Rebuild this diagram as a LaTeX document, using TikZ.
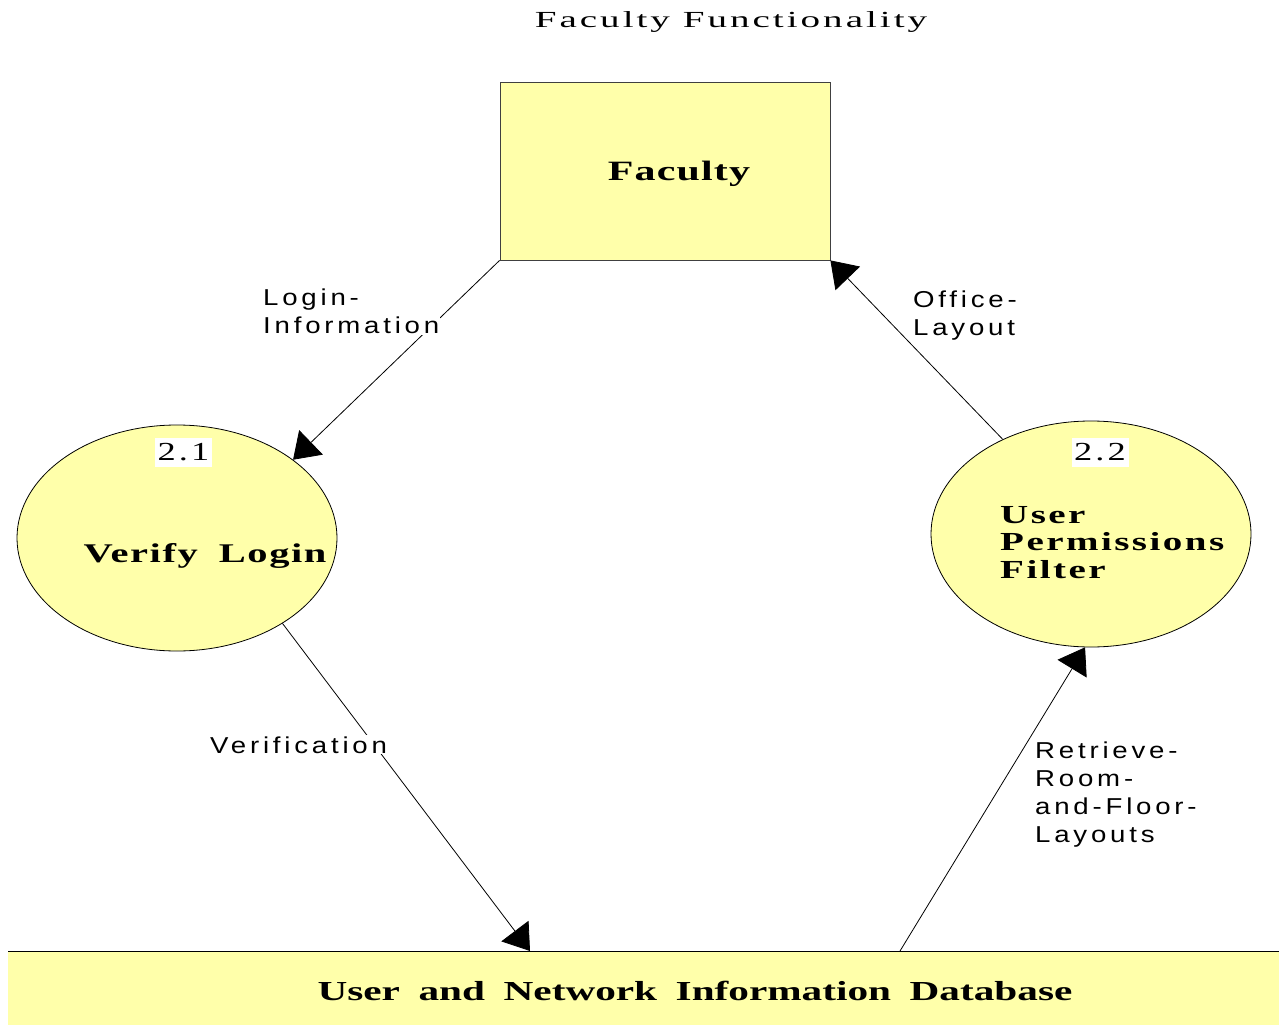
\documentclass[tikz,border=0pt]{standalone}
\usepackage{fontspec}
\setmainfont{Liberation Serif}
\newfontfamily\serifwide[FakeStretch=1.5]{Liberation Serif}
\newfontfamily\serifwidews[FakeStretch=1.5,WordSpace=1.8]{Liberation Serif}
\newfontfamily\titlefont[FakeStretch=1.7,LetterSpace=13]{Liberation Serif}
\newfontfamily\numfont[FakeStretch=1.4,LetterSpace=12]{Liberation Serif}
\newfontfamily\lblfont[FakeStretch=1.2,LetterSpace=16.5]{Liberation Sans}
\usetikzlibrary{arrows.meta,shapes.geometric}
\definecolor{dfdyellow}{RGB}{255,255,170}
\tikzset{
  proc/.style={ellipse, draw=black, line width=0.8pt, fill=dfdyellow,
    minimum width=320pt, minimum height=226pt, inner sep=0pt},
  ent/.style={rectangle, draw=black!75, line width=0.8pt, fill=dfdyellow,
    minimum width=330pt, minimum height=178pt, inner sep=0pt},
  store/.style={rectangle, fill=dfdyellow, minimum width=1271pt,
    minimum height=74pt, inner sep=0pt},
  flow/.style={draw=black, line width=0.8pt, -{Triangle[length=25pt,width=34pt]}},
  flowlbl/.style={fill=white, inner sep=1pt, align=left,
    font=\lblfont\fontsize{23}{28}\selectfont},
  numlbl/.style={fill=white, inner sep=0pt, minimum width=57pt, minimum height=29pt,
    font=\numfont\fontsize{26}{26}\selectfont},
  boldtxt/.style={inner sep=0pt, align=left},
}
\begin{document}
\begin{tikzpicture}[x=1pt,y=-1pt]
\useasboundingbox (0,0) rectangle (1279,1027);
% title
\node[anchor=base, inner sep=0pt, font=\titlefont\fontsize{23}{23}\selectfont] (title) at (731,28) {Faculty Functionality};
% main shapes
\node[ent] (faculty) at (665,171) {};
\node[proc] (verify) at (177,538) {};
\node[proc] (perm) at (1091,534) {};
\node[store, anchor=north west] (db) at (8,951) {};
\draw[line width=0.8pt] (db.north west) -- (db.north east);
\coordinate (dbin) at (530,951);
\coordinate (dbout) at (900,951);
% texts in shapes
\node[boldtxt, anchor=base, font={\serifwide\bfseries\fontsize{28}{28}\selectfont\addfontfeature{LetterSpace=4}}] (facultytxt) at (679,181) {Faculty};
\node[boldtxt, anchor=base, font={\serifwidews\bfseries\fontsize{27}{27}\selectfont\addfontfeature{LetterSpace=5.8}}] (verifytxt) at (205,562) {Verify Login};
\node[boldtxt, anchor=north west, font={\serifwide\bfseries\fontsize{26}{27.5}\selectfont\addfontfeature{LetterSpace=9.5}}] (permtxt) at (1000,506) {User\\Permissions\\Filter};
\node[boldtxt, anchor=base, font={\serifwidews\bfseries\fontsize{27.5}{28}\selectfont}] (dbtxt) at (695,1000) {User and Network Information Database};
\node[numlbl] (num1) at (183.5,452.5) {2.1};
\node[numlbl] (num2) at (1100,452) {2.2};
% connectors
\draw[flow] (faculty.south west) -- (verify.34.6);
\draw[flow] (perm.133.7) -- (faculty.south east);
\draw[flow] (verify.-39.8) -- (dbin);
\draw[flow] (dbout) -- (perm.267);
% connector labels
\node[flowlbl, anchor=north west] (l1) at (262,287.5) {Login-\\Information};
\node[flowlbl, anchor=north west] (l2) at (912,289.5) {Office-\\Layout};
\node[flowlbl, anchor=base west] (l3) at (209,753) {Verification};
\node[flowlbl, anchor=north west] (l4) at (1034,740.5) {Retrieve-\\Room-\\and-Floor-\\Layouts};
\end{tikzpicture}
\end{document}
